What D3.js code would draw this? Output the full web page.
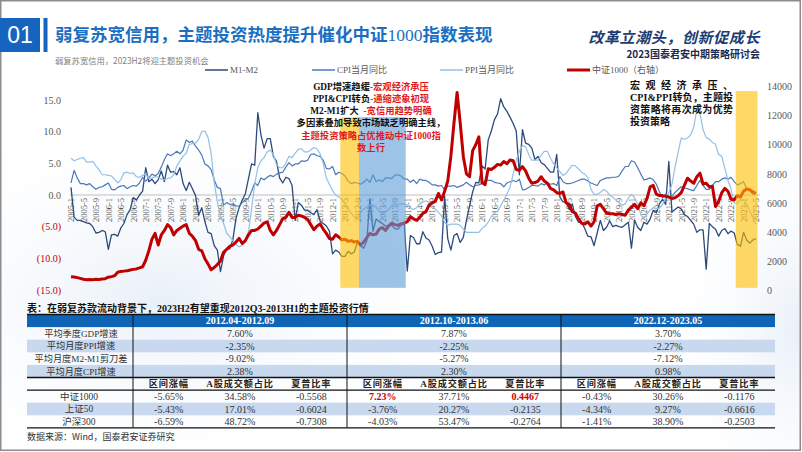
<!DOCTYPE html>
<html><head><meta charset="utf-8">
<script src="https://cdn.jsdelivr.net/npm/d3@7"></script>
<style>
html,body{margin:0;padding:0;background:#fff;}
svg{display:block;}
</style></head>
<body>
<svg id="chart" width="802" height="452"></svg>
<script>
// ===================== DATA =====================
const startYear = 2005, monthCount = 221; // 2005-1 .. 2023-5
const months = d3.range(monthCount).map(i => `${startYear + Math.floor(i / 12)}-${i % 12 + 1}`);
const tickLabels = months.filter((d, i) => i % 4 === 0);

const m1m2 = [
  1.2, -3.5, -4.0, -4.0, -4.2, -4.4, -4.5, -5.0, -6.0, -5.9, -5.6, -5.8,
  -8.6, -6.3, -6.2, -6.5, -5.2, -4.5, -3.1, -2.3, -0.4, -0.8, 0.0, 0.6,
  4.3, 2.1, 2.5, 1.8, 2.4, 3.8, 2.1, 4.7, 3.6, 3.7, 3.2, 4.3,
  1.8, 0.7, 2.0, 1.0, -0.1, -3.2, -2.0, -4.2, -5.9, -6.1, -8.0, -8.7,
  -12.1, -9.6, -8.5, -8.5, -7.0, -3.7, -2.0, -0.8, 0.2, 2.6, 4.9, 4.7,
  13.0, 9.5, 7.4, 8.9, 8.9, 6.1, 5.3, 2.7, 1.9, 2.8, 2.6, 1.5,
  -4.0, -1.2, -1.6, -2.4, -2.4, -2.8, -3.1, -2.3, -4.1, -4.5, -4.9, -5.7,
  -9.3, -8.7, -9.0, -9.7, -9.7, -8.9, -9.3, -9.0, -7.5, -8.0, -8.4, -7.3,
  -0.6, -5.7, -3.8, -4.2, -4.5, -4.9, -4.8, -4.8, -5.3, -5.4, -4.8, -4.3,
  -12.0, -6.4, -6.7, -7.7, -7.7, -5.8, -6.8, -7.1, -8.1, -9.4, -9.1, -9.0,
  -0.2, -6.9, -8.7, -6.4, -6.1, -7.5, -6.7, -4.0, -1.7, 0.5, 2.0, 1.9,
  4.6, 4.1, 8.7, 10.1, 11.9, 12.8, 15.2, 13.9, 13.2, 12.3, 11.3, 10.1,
  3.2, 10.3, 8.2, 8.0, 7.4, 5.6, 6.1, 5.1, 4.8, 4.2, 3.6, 3.6,
  6.4, -0.3, -1.1, -1.1, -2.3, -1.4, -3.4, -4.3, -4.3, -5.3, -6.5, -6.6,
  -8.0, -6.0, -4.0, -5.6, -5.1, -4.1, -5.0, -4.8, -5.0, -5.1, -4.7, -4.3,
  -8.4, -4.0, -5.1, -5.6, -4.3, -4.6, -3.8, -2.4, -2.8, -1.4, -0.7, -1.5,
  5.3, -2.7, -2.3, -1.9, -2.2, -3.1, -3.4, -4.0, -4.6, -5.9, -5.5, -5.5,
  -11.7, -4.5, -5.0, -5.4, -6.5, -5.6, -5.3, -6.1, -5.7, -6.0, -7.8, -8.1,
  -5.9, -7.1, -7.6, -7.1, -6.9
];

const cpi = [
  1.9, 3.9, 2.7, 1.8, 1.8, 1.6, 1.8, 1.3, 0.9, 1.2, 1.3, 1.6,
  1.9, 0.9, 0.8, 1.2, 1.4, 1.5, 1.0, 1.3, 1.5, 1.4, 1.9, 2.8,
  2.2, 2.7, 3.3, 3.0, 3.4, 4.4, 5.6, 6.5, 6.2, 6.5, 6.9, 6.5,
  7.1, 8.7, 8.3, 8.5, 7.7, 7.1, 6.3, 4.9, 4.6, 4.0, 2.4, 1.2,
  1.0, -1.6, -1.2, -1.5, -1.4, -1.7, -1.8, -1.2, -0.8, -0.5, 0.6, 1.9,
  1.5, 2.7, 2.4, 2.8, 3.1, 2.9, 3.3, 3.5, 3.6, 4.4, 5.1, 4.6,
  4.9, 4.9, 5.4, 5.3, 5.5, 6.4, 6.5, 6.2, 6.1, 5.5, 4.2, 4.1,
  4.5, 3.2, 3.6, 3.4, 3.0, 2.2, 1.8, 2.0, 1.9, 1.7, 2.0, 2.5,
  2.0, 3.2, 2.1, 2.4, 2.1, 2.7, 2.7, 2.6, 3.1, 3.2, 3.0, 2.5,
  2.5, 2.0, 2.4, 1.8, 2.5, 2.3, 2.3, 2.0, 1.6, 1.6, 1.4, 1.5,
  0.8, 1.4, 1.4, 1.5, 1.2, 1.4, 1.6, 2.0, 1.6, 1.3, 1.5, 1.6,
  1.8, 2.3, 2.3, 2.3, 2.0, 1.9, 1.8, 1.3, 1.9, 2.1, 2.3, 2.1,
  2.5, 0.8, 0.9, 1.2, 1.5, 1.5, 1.4, 1.8, 1.6, 1.9, 1.7, 1.8,
  1.5, 2.9, 2.1, 1.8, 1.8, 1.9, 2.1, 2.3, 2.5, 2.5, 2.2, 1.9,
  1.7, 1.5, 2.3, 2.5, 2.7, 2.7, 2.8, 2.8, 3.0, 3.8, 4.5, 4.5,
  5.4, 5.2, 4.3, 3.3, 2.4, 2.5, 2.7, 2.4, 1.7, 0.5, -0.5, 0.2,
  -0.3, -0.2, 0.4, 0.9, 1.3, 1.1, 1.0, 0.8, 0.7, 1.5, 2.3, 1.5,
  0.9, 0.9, 1.5, 2.1, 2.1, 2.5, 2.7, 2.5, 2.8, 2.1, 1.6, 1.8,
  2.1, 1.0, 0.7, 0.1, 0.2
];

const ppi = [
  5.8, 5.4, 5.6, 5.8, 5.9, 5.2, 5.2, 5.3, 4.6, 4.0, 3.2, 3.2,
  3.1, 3.0, 2.5, 1.9, 2.4, 3.5, 3.6, 3.4, 3.5, 2.9, 2.8, 3.1,
  3.3, 2.6, 2.7, 2.9, 2.8, 2.5, 2.4, 2.6, 2.7, 3.2, 4.6, 5.4,
  6.1, 6.6, 8.0, 8.1, 8.2, 8.8, 10.0, 10.1, 9.1, 6.6, 2.0, -1.1,
  -3.3, -4.5, -6.0, -6.6, -7.2, -7.8, -8.2, -7.9, -7.0, -5.8, -2.1, 1.7,
  4.3, 5.4, 5.9, 6.8, 7.1, 6.4, 4.8, 4.3, 4.3, 5.0, 6.1, 5.9,
  6.6, 7.2, 7.3, 6.8, 6.8, 7.1, 7.5, 7.3, 6.5, 5.0, 2.7, 1.7,
  0.7, 0.0, -0.3, -0.7, -1.4, -2.1, -2.9, -3.5, -3.6, -2.8, -2.2, -1.9,
  -1.6, -1.6, -1.9, -2.6, -2.9, -2.7, -2.3, -1.6, -1.3, -1.5, -1.4, -1.4,
  -1.6, -2.0, -2.3, -2.0, -1.4, -1.1, -0.9, -1.2, -1.8, -2.2, -2.7, -3.3,
  -4.3, -4.8, -4.6, -4.6, -4.6, -4.8, -5.4, -5.9, -5.9, -5.9, -5.9, -5.9,
  -5.3, -4.9, -4.3, -3.4, -2.8, -2.6, -1.7, -0.8, 0.1, 1.2, 3.3, 5.5,
  6.9, 7.8, 7.6, 6.4, 5.5, 5.5, 5.5, 6.3, 6.9, 6.9, 5.8, 4.9,
  4.3, 3.7, 3.1, 3.4, 4.1, 4.7, 4.6, 4.1, 3.6, 3.3, 2.7, 0.9,
  0.1, 0.1, 0.4, 0.9, 0.6, 0.0, -0.3, -0.8, -1.2, -1.6, -1.4, -0.5,
  0.1, -0.4, -1.5, -3.1, -3.7, -3.0, -2.4, -2.0, -2.1, -2.1, -1.5, -0.4,
  0.3, 1.7, 4.4, 6.8, 9.0, 8.8, 9.0, 9.5, 10.7, 13.5, 12.9, 10.3,
  9.1, 8.8, 8.3, 8.0, 6.4, 6.1, 4.2, 2.3, 0.9, -1.3, -1.3, -0.7,
  -0.8, -1.4, -2.5, -3.6, -4.6
];

const csi1000 = [
  920, 900, 850, 800, 740, 700, 720, 700, 740, 730, 760, 780,
  880, 920, 980, 1220, 1280, 1300, 1320, 1380, 1420, 1450, 1520, 1600,
  2050, 2700, 3500, 3900, 3100, 3800, 4100, 4500, 4300, 3800, 4100, 4250,
  4400, 4500, 3900, 3700, 3400, 2800, 2700, 2150, 1800, 1400, 1550, 1750,
  2000, 2600, 2800, 3000, 3100, 3300, 3550, 3200, 3400, 3800, 4100, 4100,
  4200, 4400, 4600, 4700, 4100, 3800, 4100, 4500, 4900, 5000, 5350, 5000,
  5000, 5150, 5100, 5000, 4850, 4500, 4150, 4400, 4550, 4200, 3900, 3550,
  3500, 3800, 3650, 3450, 3500, 3350, 3400, 3300, 3350, 3100, 3300, 3600,
  3900, 3800, 3850, 4200, 4300, 4100, 4400, 4600, 4500, 4450, 4550, 4600,
  4700, 5050, 4900, 4800, 5000, 5280, 5400, 5850, 6000, 6100, 6650, 6200,
  6800, 7500, 9200, 11500, 13600, 11500, 9200, 8000, 7800, 9600, 10000, 10550,
  7400, 7250, 8350, 8300, 8450, 8650, 8600, 8850, 8700, 8950, 8900, 8300,
  8250, 8500, 8200, 7700, 7350, 7400, 7500, 7800, 7500, 7350, 7000, 6900,
  6700, 6650, 6750, 6000, 5900, 5400, 5300, 4900, 4600, 4550, 4700, 4400,
  4700, 5800, 5900, 5600, 5300, 5250, 5250, 5200, 5250, 5200, 5150, 5500,
  5700, 5900, 5600, 6000, 5800, 6300, 7100, 7200, 6600, 6500, 6500, 6450,
  6400, 6300, 6350, 6500, 6700, 7200, 7700, 7500, 7350, 7800, 8050, 7300,
  7350, 7100, 7150, 5750, 6100, 6700, 7000, 6800, 6250, 6200, 6500, 6400,
  6800, 6950, 6900, 6750, 6650
];

const leftTicks = [15, 10, 5, 0, -5, -10, -15];
const rightTicks = [0, 2000, 4000, 6000, 8000, 10000, 12000, 14000];

const seriesNames = ["M1-M2", "CPI当月同比", "PPI当月同比", "中证1000（右轴）"];
const seriesColors = ["#2d4a7a", "#4d78b8", "#93c0e6", "#c00000"];

// highlighted periods: month range + top value (right-axis units)
const bands = [
  { from: "2012-4", to: "2012-9", top: 11900, bottom: 150, color: "#ffc000" },
  { from: "2012-10", to: "2013-12", top: 11900, bottom: 150, color: "#5b9bd5" },
  { from: "2022-11", to: "2023-5", top: 13700, bottom: 150, color: "#ffc000" }
];

// table
const tableTitle = "表：在弱复苏款流动背景下，2023H2有望重现2012Q3-2013H1的主题投资行情";
const periods = ["2012.04-2012.09", "2012.10-2013.06", "2022.12-2023.05"];
const macroLabels = ["平均季度GDP增速", "平均月度PPI增速", "平均月度M2-M1剪刀差", "平均月度CPI增速"];
const macroValues = [
  ["7.60%", "-2.35%", "-9.02%", "2.38%"],
  ["7.87%", "-2.25%", "-5.27%", "2.30%"],
  ["3.70%", "-2.27%", "-7.12%", "0.98%"]
];
const metricLabels = ["区间涨幅", "A股成交额占比", "夏普比率"];
const indexLabels = ["中证1000", "上证50", "沪深300"];
const indexValues = [
  ["-5.65%", "34.58%", "-0.5568", "7.23%", "37.71%", "0.4467", "-0.43%", "30.26%", "-0.1176"],
  ["-5.43%", "17.01%", "-0.6024", "-3.76%", "20.27%", "-0.2135", "-4.34%", "9.27%", "-0.6616"],
  ["-6.59%", "48.72%", "-0.7308", "-4.03%", "53.47%", "-0.2764", "-1.41%", "38.90%", "-0.2503"]
];
const highlightCells = ["0-3", "0-5"];

// ===================== DRAW =====================
const svg = d3.select("#chart");
const SERIF = '"Liberation Serif","Times New Roman","Noto Sans CJK SC",serif';
const SANS = '"Noto Sans CJK SC","Noto Sans",sans-serif';
const GRAY = "#595959";

// background
const defs = svg.append("defs");
const rg = defs.append("radialGradient").attr("id", "bgA").attr("cx", "50%").attr("cy", "50%").attr("r", "50%");
rg.append("stop").attr("offset", "0%").attr("stop-color", "#e9f0f8");
rg.append("stop").attr("offset", "100%").attr("stop-color", "#ffffff").attr("stop-opacity", 0);
svg.append("rect").attr("width", 802).attr("height", 452).attr("fill", "#fff");
svg.append("ellipse").attr("cx", 160).attr("cy", 300).attr("rx", 330).attr("ry", 190).attr("fill", "url(#bgA)");
svg.append("ellipse").attr("cx", 800).attr("cy", 330).attr("rx", 140).attr("ry", 220).attr("fill", "url(#bgA)");
svg.append("rect").attr("x", 0.75).attr("y", 0.75).attr("width", 799.5).attr("height", 449.5)
  .attr("fill", "none").attr("stroke", "#8c8c8c").attr("stroke-width", 1.5);

// header
svg.append("rect").attr("x", 0).attr("y", 18).attr("width", 40).attr("height", 34).attr("fill", "#1565c0");
svg.append("text").attr("x", 20).attr("y", 43).attr("text-anchor", "middle")
  .attr("font-family", '"Liberation Sans",Arial,sans-serif').attr("font-size", 23).attr("fill", "#fff").text("01");
svg.append("rect").attr("x", 43.5).attr("y", 18).attr("width", 4).attr("height", 34).attr("fill", "#1565c0");
const title = svg.append("text").attr("x", 55).attr("y", 40.5).attr("font-size", 17.5).attr("fill", "#1b6fc2");
title.append("tspan").attr("font-family", SANS).attr("font-weight", 700).text("弱复苏宽信用，主题投资热度提升催化中证");
title.append("tspan").attr("font-family", SERIF).attr("font-weight", 400).text("1000");
title.append("tspan").attr("font-family", SANS).attr("font-weight", 700).text("指数表现");
svg.append("text").attr("x", 55).attr("y", 63.5).attr("font-family", SANS).attr("font-size", 8.3)
  .attr("fill", "#7f7f7f").text("弱复苏宽信用，2023H2将迎主题投资机会");
svg.append("text").attr("x", 760).attr("y", 42.5).attr("text-anchor", "end").attr("font-family", SANS)
  .attr("font-size", 15).attr("font-weight", 700).attr("font-style", "italic").attr("letter-spacing", 0.6)
  .attr("fill", "#1d3c73").text("改革立潮头，创新促成长");
svg.append("text").attr("x", 760).attr("y", 57.5).attr("text-anchor", "end").attr("font-family", SANS)
  .attr("font-size", 10).attr("font-weight", 700).attr("fill", "#1b2a4e").text("2023国泰君安中期策略研讨会");

// scales
const x = d3.scalePoint().domain(months).range([71, 756]);
const yL = d3.scaleLinear().domain([-15, 15]).range([290, 100]);
const yR = d3.scaleLinear().domain([0, 14000]).range([290, 86.7]);
const step = x.step();

// zero line
svg.append("line").attr("x1", x(months[0]) - 1).attr("x2", x(months[monthCount - 1]) + 4)
  .attr("y1", yL(0)).attr("y2", yL(0)).attr("stroke", "#bfbfbf").attr("stroke-width", 1);

// left axis
const gL = svg.append("g").attr("transform", "translate(64,0)")
  .call(d3.axisLeft(yL).tickValues(leftTicks).tickSize(0).tickPadding(3)
    .tickFormat(v => v < 0 ? `(${Math.abs(v).toFixed(1)})` : v.toFixed(1)));
gL.select(".domain").remove();
gL.selectAll("text").attr("font-family", SERIF).attr("font-size", 10)
  .attr("fill", v => v < 0 ? "#c00000" : GRAY);

// right axis
const gR = svg.append("g").attr("transform", "translate(764,0)")
  .call(d3.axisRight(yR).tickValues(rightTicks).tickSize(0).tickPadding(3).tickFormat(d3.format("d")));
gR.select(".domain").remove();
gR.selectAll("text").attr("font-family", SERIF).attr("font-size", 10).attr("fill", GRAY);

// x axis (rotated labels under zero line)
const gX = svg.append("g").attr("transform", `translate(0,${yL(0)})`)
  .call(d3.axisBottom(x).tickValues(tickLabels).tickSize(0));
gX.select(".domain").remove();
gX.selectAll("text").attr("font-family", SERIF).attr("font-size", 8.5).attr("fill", GRAY)
  .attr("transform", "rotate(-90)").attr("text-anchor", "end")
  .attr("x", -3).attr("y", 0).attr("dy", "0.33em");

// lines
const lineL = d3.line().x((d, i) => x(months[i])).y(d => yL(d));
const lineR = d3.line().x((d, i) => x(months[i])).y(d => yR(d));
const seriesData = [m1m2, cpi, ppi];
seriesData.forEach((s, k) => {
  svg.append("path").datum(s).attr("d", lineL).attr("fill", "none")
    .attr("stroke", seriesColors[k]).attr("stroke-width", k === 0 ? 1.3 : 1.2)
    .attr("stroke-linejoin", "round");
});
svg.append("path").datum(csi1000).attr("d", lineR).attr("fill", "none")
  .attr("stroke", seriesColors[3]).attr("stroke-width", 3).attr("stroke-linejoin", "round");

// highlight bands (semi-transparent, over the lines)
bands.forEach(b => {
  const x0 = x(b.from) - step / 2, x1 = x(b.to) + step / 2;
  svg.append("rect").attr("x", x0).attr("width", x1 - x0)
    .attr("y", yR(b.top)).attr("height", yR(b.bottom) - yR(b.top))
    .attr("fill", b.color).attr("opacity", 0.6);
});

// legend
const legendX = [205, 312, 440, 567];
seriesNames.forEach((n, k) => {
  svg.append("line").attr("x1", legendX[k]).attr("x2", legendX[k] + 23).attr("y1", 70).attr("y2", 70)
    .attr("stroke", seriesColors[k]).attr("stroke-width", k === 3 ? 3 : 1.5);
  svg.append("text").attr("x", legendX[k] + 25).attr("y", 73.2).attr("font-family", SERIF)
    .attr("font-size", 9).attr("fill", GRAY).text(n);
});

// annotation 1
const ann1 = [
  [["GDP增速趋缓", "#111"], ["-宏观经济承压", "#e0191b"]],
  [["PPI&CPI转负", "#111"], ["-通缩迹象初现", "#e0191b"]],
  [["M2-M1扩大  ", "#111"], ["-宽信用趋势明确", "#e0191b"]],
  [["多因素叠加导致市场缺乏明确主线，", "#111"]],
  [["主题投资策略占优推动中证1000指", "#e0191b"]],
  [["数上行", "#e0191b"]]
];
ann1.forEach((parts, r) => {
  const t = svg.append("text").attr("x", 371).attr("y", 89.5 + r * 12.3).attr("text-anchor", "middle")
    .attr("font-family", SERIF).attr("font-size", 9.3).attr("font-weight", 700).attr("xml:space", "preserve");
  parts.forEach(p => t.append("tspan").attr("fill", p[1]).text(p[0]));
});

// annotation 2
const ann2 = ["宏观经济承压、", "CPI&PPI转负，主题投", "资策略将再次成为优势", "投资策略"];
ann2.forEach((s, r) => {
  const t = svg.append("text").attr("x", 630).attr("y", 88.5 + r * 12.3)
    .attr("font-family", SERIF).attr("font-size", 10).attr("font-weight", 700).attr("fill", "#111").text(s);
  if (r < 3) t.attr("textLength", 103).attr("lengthAdjust", "spacing");
});

// ===================== TABLE =====================
svg.append("text").attr("x", 27).attr("y", 312).attr("font-family", SERIF).attr("font-size", 10)
  .attr("font-weight", 700).attr("fill", "#111").text(tableTitle);

const tX0 = 27, tXLab = 133, tX1 = 775;
const gx = d3.scaleLinear().domain([0, 3]).range([tXLab, tX1]);
const gW = (tX1 - tXLab) / 3;
const rowH = 12.6, tY0 = 314.5;
const rowTop = i => tY0 + i * rowH; // row 0 header, 1-4 macro, 5 metrics, 6-8 indices
const LIGHT = "#c8d8ee";

// header row
svg.append("rect").attr("x", tX0).attr("y", rowTop(0)).attr("width", tX1 - tX0).attr("height", rowH).attr("fill", "#1064b6");
periods.forEach((p, g) => {
  svg.append("text").attr("x", gx(g) + gW / 2).attr("y", rowTop(0) + rowH / 2 + 3.5).attr("text-anchor", "middle")
    .attr("font-family", SERIF).attr("font-size", 10).attr("font-weight", 700).attr("fill", "#fff").text(p);
});
// macro rows
macroLabels.forEach((lab, r) => {
  const top = rowTop(r + 1);
  if (r % 2 === 1) svg.append("rect").attr("x", tX0).attr("y", top).attr("width", tX1 - tX0).attr("height", rowH).attr("fill", LIGHT);
  svg.append("text").attr("x", 81).attr("y", top + rowH / 2 + 3.3).attr("text-anchor", "middle")
    .attr("font-family", SERIF).attr("font-size", 9.2).attr("fill", "#333").text(lab);
  periods.forEach((p, g) => {
    svg.append("text").attr("x", gx(g) + gW / 2).attr("y", top + rowH / 2 + 3.5).attr("text-anchor", "middle")
      .attr("font-family", SERIF).attr("font-size", 10).attr("fill", "#333").text(macroValues[g][r]);
  });
});
// metrics header
periods.forEach((p, g) => {
  metricLabels.forEach((m, j) => {
    svg.append("text").attr("x", gx(g) + gW * (j + 0.5) / 3).attr("y", rowTop(5) + rowH / 2 + 3.3)
      .attr("text-anchor", "middle").attr("font-family", SERIF).attr("font-size", 9.2).attr("font-weight", 700)
      .attr("letter-spacing", 0.8).attr("fill", "#222").text(m);
  });
});
// index rows
indexLabels.forEach((lab, r) => {
  const top = rowTop(6 + r);
  if (r === 1) svg.append("rect").attr("x", tX0).attr("y", top).attr("width", tX1 - tX0).attr("height", rowH).attr("fill", LIGHT);
  svg.append("text").attr("x", 79).attr("y", top + rowH / 2 + 3.3).attr("text-anchor", "middle")
    .attr("font-family", SERIF).attr("font-size", 9.5).attr("fill", "#333").text(lab);
  indexValues[r].forEach((v, c) => {
    const g = Math.floor(c / 3), j = c % 3;
    const hl = highlightCells.includes(`${r}-${c}`);
    svg.append("text").attr("x", gx(g) + gW * (j + 0.5) / 3).attr("y", top + rowH / 2 + 3.5)
      .attr("text-anchor", "middle").attr("font-family", SERIF).attr("font-size", 10)
      .attr("font-weight", hl ? 700 : 400).attr("fill", hl ? "#d00000" : "#333").text(v);
  });
});
// table rules
[0, 5, 6, 9].forEach(i => {
  svg.append("line").attr("x1", tX0).attr("x2", tX1).attr("y1", rowTop(i)).attr("y2", rowTop(i))
    .attr("stroke", "#111").attr("stroke-width", 1.4);
});
[0, 1, 2].forEach(g => {
  svg.append("line").attr("x1", gx(g)).attr("x2", gx(g)).attr("y1", rowTop(0)).attr("y2", rowTop(9))
    .attr("stroke", "#111").attr("stroke-width", 1);
});
svg.append("text").attr("x", 27).attr("y", 440).attr("font-family", SANS).attr("font-size", 9)
  .attr("fill", "#333").text("数据来源：Wind，国泰君安证券研究");
</script>
</body></html>
